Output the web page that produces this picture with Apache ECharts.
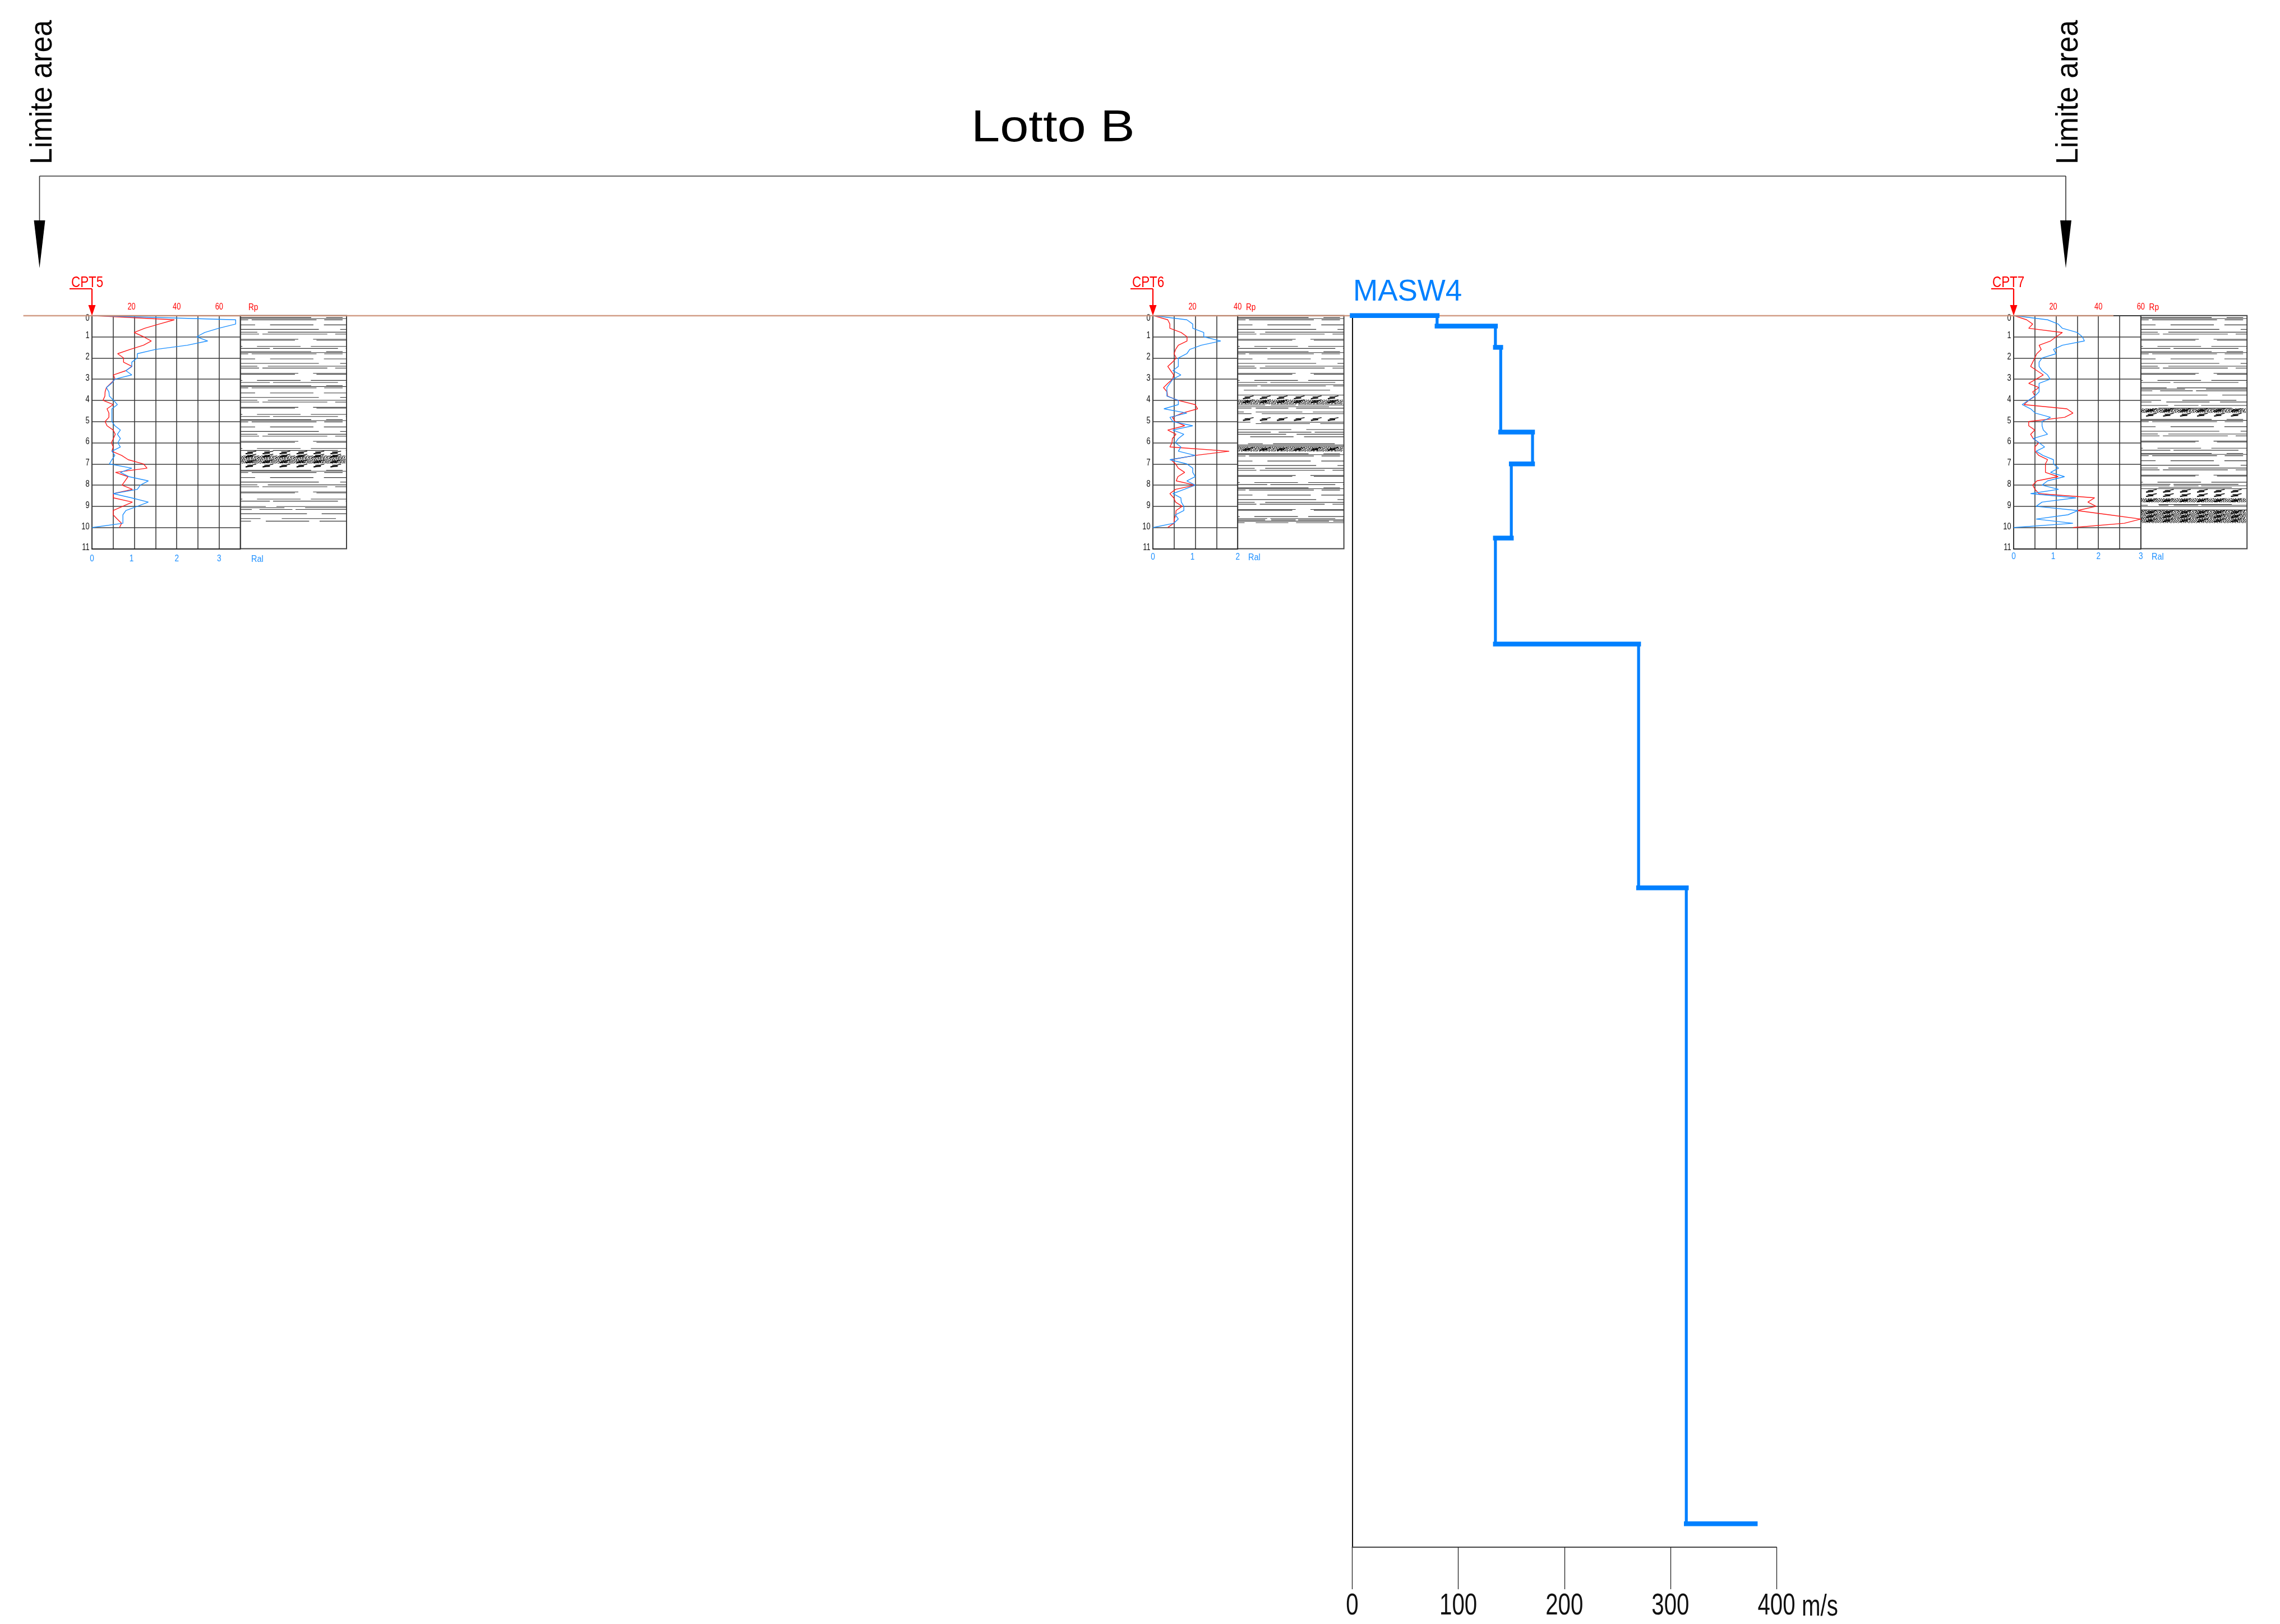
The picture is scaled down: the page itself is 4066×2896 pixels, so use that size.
<!DOCTYPE html>
<html><head><meta charset="utf-8">
<style>html,body{margin:0;padding:0;background:#fff}#c{width:4066px;height:2896px}</style>
<script src="https://cdn.jsdelivr.net/npm/echarts@6/dist/echarts.min.js"></script>
</head><body><div id="c"></div>
<script>
// ---------- data ----------
const depths = [0,.2,.4,.6,.8,1,1.2,1.4,1.6,1.8,2,2.2,2.4,2.6,2.8,3,3.2,3.4,3.6,3.8,4,4.2,4.4,4.6,4.8,5,5.2,5.4,5.6,5.8,6,6.2,6.4,6.6,6.8,7,7.2,7.4,7.6,7.8,8,8.2,8.4,8.6,8.8,9,9.2,9.4,9.6,9.8,10];
const cpt5Rp = [0,38.9,31.7,24.9,19.9,24.3,28,24.3,18,12.1,14.9,14.9,18.9,16,10.1,10.9,8.8,6.8,6.2,6.1,5.2,10,7.1,8,8,6.2,7.1,10,11,10.1,9.2,10,9.4,14,17.1,24.3,26,11.1,17,15.6,14.2,19.1,10.1,10.1,19.1,14.5,10,10,11.9,14,13];
const cpt5Ral = [0,3.39,3.39,2.99,2.66,2.47,2.73,2.25,1.5,1.07,1.07,.94,.94,.8,.94,.54,.46,.34,.4,.41,.51,.6,.47,.47,.47,.47,.54,.67,.6,.67,.61,.67,.47,.54,.47,.41,.94,.67,.87,1.33,1.14,1.07,.5,.93,1.33,1.07,.8,.73,.73,.73,0];
const cpt6Rp = [0,7,8,8,13.3,16.1,16.1,12,10.7,10,11,9.2,7,8.4,9.8,9.3,7,5,6.7,6.9,11.8,19.9,21.1,13.9,9.2,10.5,15,7,10.9,9.2,9,8,36,19.9,8.5,10.7,12,15,11.8,11,19.9,10.7,8,9.8,10.7,13.8,10.9,10.8,10.1,9.9,7];
const cpt6Ral = [0,.8,.94,.94,1.2,1.2,1.6,1.14,.87,.8,.6,.6,.6,.47,.66,.47,.4,.33,.33,.33,.6,.6,.26,.8,.4,.47,.94,.47,.73,.6,.53,.66,.6,1,.4,.8,.94,.94,1,.8,1,.74,.47,.66,.67,.73,.73,.53,.6,.49,0];
const cpt7Rp = [0,6.1,9,7.1,23,20.1,17.4,12,13,10.9,10,9,8,11,14,10.6,7.1,11.9,9,10.1,7.1,4.9,25.1,28,24.1,7.1,7.1,10,8,9.2,11.9,10,10.1,11.9,16,15,15,15,21,11,9,10.1,11.9,38.2,35,38.9,30,45,60,52.2,28];
const cpt7Ral = [0,.8,1.05,1.15,1.5,1.62,1.67,1.15,.94,1,.67,.6,.6,.67,.8,.86,.6,.6,.6,.5,.35,.2,.4,.51,.87,.67,.67,.7,.8,.46,.6,.73,.53,.69,.94,.94,1.06,.87,1.2,.8,.67,1.06,.4,1.47,.67,.53,1.52,1.28,.53,1.4,0];

const maswVelocity = [0,80,80,135,135,140,140,170,170,150,150,135,135,270,270,315,315,380];
const maswDepth    = [0,0,.5,.5,1.5,1.5,5.5,5.5,7,7,10.5,10.5,15.5,15.5,27,27,57,57];

const depthTicks = [0,1,2,3,4,5,6,7,8,9,10,11];
const maswTicks = [0,100,200,300,400];

// clay hatch: one repeat of the lithology symbol: [depth offset (m), from %, to %, ...]
const clayHatch = [
 [0,0,66.7,80.8,96.3],[.044,0,100],[.106,0,7.4,10.7,71.7,79,96.3],[.344,0,13.9,28,68.8,78.7,100],
 [.556,0,73.9,94,100],[.688,0,16,25.9,100],[.776,0,17.6,20.8,81.9,89.3,100],[1.023,0,54.6,68.5,100],
 [1.067,0,51.4,71.7,100],[1.358,0,1.9,15.7,56.7,66.4,100],[1.455,0,27.8,30.8,91.9,99.3,100]];
const clayPeriod = 1.605;
const commaColumns = [9.7,25.7,41.7,57.7,73.7,89.6];

const cpt5ClayRuns = [[.097,4],[7.30,1]];
const cpt6ClayRuns = [[.097,2],[6.52,2]];
const cpt7ClayRuns = [[.097,2],[4.90,2]];
const cpt5Rows = [[9.01,0,24,34,100],[9.07,0,41.5,61,100],[9.15,0,10.8,18,49,52,100],[9.35,0,62.7,76.6,100],[9.58,0,19,39,90],[9.70,0,10,24,64.8,74.6,100]];
const cpt6Rows = [[3.26,0,100],[3.32,0,18.5,21.7,83,90,100],[3.52,5.8,87],[3.75,0,100],[4.22,0,25.9,31.3,54.6,56.9,100],[4.30,0,86],[4.37,0,13,17,47.7,55,100],[4.55,0,5.8,17,60.9,70.8,100],[4.63,0,13,22.7,100],[5.03,0,12,22.2,100],[5.10,17,68,77.8,100],[5.38,0,50.5,64.6,100],[5.50,0,31.2,38.6,69.4,72.5,100],[5.60,0,45.6,55.5,100],[5.72,11.8,52.6,62.5,100],[6.05,9.7,23.6,33.3,91.4],[6.11,0,100],[6.17,0,100],[9.64,0,25.9,31.5,54.6,56.9,100],[9.70,0,86,90,100],[9.77,0,6.5,17,47.7,55,100]];
const cpt7Rows = [[3.41,0,24.3,34,100],[3.47,0,41.6,61.4,100],[3.55,0,10.8,18.2,48.9,52,100],[3.75,0,62.8,76.7,100],[4.0,0,19,39,90],[4.08,0,10,24,64.7,74.6,100],[4.24,0,25.7,31.4,54.3,56.8,100],[4.37,16.6,85.7],[8.03,0,27,31,54.3,56.8,100],[8.11,16.6,85.7],[8.17,0,100],[8.91,16.6,85.7],[8.95,0,6.5,17,26,31,54,57,100],[9.01,0,100],[9.17,0,100]];
const cpt5Sand = [[6.60,6.98]];
const cpt6Sand = [[3.97,4.18],[6.19,6.41]];
const cpt7Sand = [[4.38,4.59],[8.62,8.81],[9.19,9.78]];
const cpt5Commas = [6.47,6.62,6.89,7.09];
const cpt6Commas = [3.87,4.05,4.89,6.30];
const cpt7Commas = [4.47,4.69,8.28,8.48,8.72,9.28,9.47,9.67];

const sandBitmap = [
 "#.#..##.#..#.##.#.#..#.##..#.#.#",
 ".#.#....#.##..#...##...#.#.##...",
 "##..#.##...#.#..##..#.##..#..#.#",
 "..#.#..#.#...##.#.#.#...#..##...",
 "#.#..##..#.##...#..##.#..##..#.#",
 ".##.#..#.#..#.#.##.....#.#..##..",
 "#...##.#..##..#..#.#.##...#.#..#",
 ".#.#..#.##...#.##.#...#.##..#.#.",
 "#..##.#...#.##....##.#..#.#...##",
 ".#...#.##.#...#.#...#.##...##.#.",
 "..##.#..#.##.#..##.#...#.#...#.#",
 "#.#...#.#...##.#..#.##.#..##.#.."];

// ---------- layout ----------
const SANS = '"Liberation Sans",Arial,sans-serif';
const RED = '#ff0000', BLUE = '#1e90ff', MASW = '#0080ff', GRIDC = '#3a3a3a';
const TOP = 562.7, CELL = 37.8, LITHW = 189.4;
const NARROW_SCALE = 0.8;
const logs = [
 {left:164,  cells:7, name:'CPT5', rp:cpt5Rp, ral:cpt5Ral, runs:cpt5ClayRuns, rows:cpt5Rows, sand:cpt5Sand, commas:cpt5Commas, redLabels:[20,40,60], blueLabels:[0,1,2,3], blueY:996},
 {left:2056, cells:4, name:'CPT6', rp:cpt6Rp, ral:cpt6Ral, runs:cpt6ClayRuns, rows:cpt6Rows, sand:cpt6Sand, commas:cpt6Commas, redLabels:[20,40], blueLabels:[0,1,2], blueY:993.6},
 {left:3591, cells:6, name:'CPT7', rp:cpt7Rp, ral:cpt7Ral, runs:cpt7ClayRuns, rows:cpt7Rows, sand:cpt7Sand, commas:cpt7Commas, redLabels:[20,40,60], blueLabels:[0,1,2,3], blueY:992.5}
];

const sandCanvas = document.createElement('canvas');
sandCanvas.width = sandBitmap[0].length; sandCanvas.height = sandBitmap.length;
{const g = sandCanvas.getContext('2d'); g.fillStyle = '#000';
 sandBitmap.forEach((r,y)=>[...r].forEach((ch,x)=>{ if(ch==='#') g.fillRect(x,y,1,1); }));}

const grid=[], xAxis=[], yAxis=[], series=[];
const lineBase = {type:'line', showSymbol:false, symbol:'none', silent:true, clip:false, animation:false, z:4};

// Tick labels are condensed in the reference and no condensed face is installed, so they
// are drawn at the axis scale position as horizontally squeezed text.
function labelSeries(name,xi,yi,values,place,size,color,align,scale){
  return {type:'custom', name, xAxisIndex:xi, yAxisIndex:yi, silent:true, animation:false, clip:false, z:8,
    encode:{x:0}, data:values.map(v=>[v]),
    renderItem:(p,api)=>{ const v=api.value(0), pos=place(v,api);
      return {type:'text', x:pos[0], y:pos[1], scaleX:scale,
        style:{text:String(v), x:0, y:0, fill:color, font:size+'px '+SANS, align, verticalAlign:'middle'}}; }};
}

logs.forEach(L=>{
  const g = grid.length, xr = xAxis.length, yr = yAxis.length;
  const w = L.cells*CELL;
  grid.push({left:L.left, top:TOP, width:w, height:11*CELL, containLabel:false});
  xAxis.push({type:'value', gridIndex:g, position:'top', min:0, max:L.cells*10, interval:10,
    axisLine:{show:true, onZero:false, lineStyle:{color:GRIDC,width:2}}, axisTick:{show:false},
    splitLine:{show:true, lineStyle:{color:GRIDC,width:1.6}}, axisLabel:{show:false}});
  xAxis.push({type:'value', gridIndex:g, position:'bottom', min:0, max:L.cells*.5, interval:.5,
    axisLine:{show:true, onZero:false, lineStyle:{color:'#222',width:2}}, axisTick:{show:false}, splitLine:{show:false}, axisLabel:{show:false}});
  yAxis.push({type:'value', gridIndex:g, inverse:true, min:0, max:11, interval:1,
    axisLine:{show:true, onZero:false, lineStyle:{color:GRIDC,width:2}}, axisTick:{show:false},
    splitLine:{show:true, lineStyle:{color:GRIDC,width:1.6}}, axisLabel:{show:false}});
  series.push(Object.assign({},lineBase,{name:L.name+' Rp', xAxisIndex:xr, yAxisIndex:yr,
    lineStyle:{color:'#ff1a1a',width:1.4}, data:depths.map((d,i)=>[L.rp[i],d])}));
  series.push(Object.assign({},lineBase,{name:L.name+' Ral', xAxisIndex:xr+1, yAxisIndex:yr,
    lineStyle:{color:BLUE,width:1.4}, data:depths.map((d,i)=>[L.ral[i],d])}));
  series.push(labelSeries(L.name+' Rp ticks',xr,yr,L.redLabels,(v,api)=>[api.coord([v,0])[0]-(v===20?5:0),547.5],16,RED,'center',NARROW_SCALE));
  series.push(labelSeries(L.name+' Ral ticks',xr+1,yr,L.blueLabels,(v,api)=>[api.coord([v,0])[0]-(v===1?5:0),L.blueY],17,BLUE,'center',NARROW_SCALE));
  series.push(Object.assign(labelSeries(L.name+' depth ticks',xr,yr,depthTicks,(v,api)=>[L.left-4.4,api.coord([0,v])[1]+(v===0?4.7:-1.5)],16,'#111','right',NARROW_SCALE),{encode:{y:0}}));

  // lithology column
  const lg = grid.length;
  grid.push({left:L.left+w, top:TOP, width:LITHW, height:11*CELL, containLabel:false, show:true, borderColor:'#444', borderWidth:2, backgroundColor:'transparent'});
  xAxis.push({type:'value', gridIndex:lg, min:0, max:100, show:false});
  yAxis.push({type:'value', gridIndex:lg, inverse:true, min:0, max:11, show:false});
  const xi = xAxis.length-1, yi = yAxis.length-1;
  const segs = [];
  const addRow = r => { for(let k=1;k<r.length;k+=2) segs.push([r[0],r[k],r[k+1]]); };
  L.runs.forEach(([start,n])=>{ for(let p=0;p<n;p++) clayHatch.forEach(r=>addRow([start+p*clayPeriod+r[0],...r.slice(1)])); });
  L.rows.forEach(addRow);
  series.push({type:'custom', name:L.name+' clay', xAxisIndex:xi, yAxisIndex:yi, silent:true, animation:false, clip:false, z:3,
    encode:{x:[1,2],y:0}, data:segs,
    renderItem:(p,api)=>{ const a=api.coord([api.value(1),api.value(0)]), b=api.coord([api.value(2),api.value(0)]);
      return {type:'line', shape:{x1:a[0],y1:a[1],x2:b[0],y2:b[1]}, style:{stroke:'#333',lineWidth:1.1}}; }});
  series.push({type:'custom', name:L.name+' sand', xAxisIndex:xi, yAxisIndex:yi, silent:true, animation:false, clip:false, z:3,
    encode:{y:[0,1]}, data:L.sand,
    renderItem:(p,api)=>{ const a=api.coord([0.5,api.value(0)]), b=api.coord([99,api.value(1)]);
      return {type:'rect', shape:{x:a[0],y:a[1],width:b[0]-a[0],height:b[1]-a[1]}, style:{fill:{image:sandCanvas,repeat:'repeat'}}}; }});
  const cm=[]; L.commas.forEach(d=>commaColumns.forEach(c=>cm.push([d,c])));
  series.push({type:'custom', name:L.name+' gravel', xAxisIndex:xi, yAxisIndex:yi, silent:true, animation:false, clip:false, z:3,
    encode:{x:1,y:0}, data:cm,
    renderItem:(p,api)=>{ const a=api.coord([api.value(1),api.value(0)]), x=a[0], y=a[1];
      return {type:'group', children:[
        {type:'polyline', shape:{points:[[x-9,y+2],[x-3,y+1],[x+4,y+0.5]]}, style:{stroke:'#000',fill:null,lineWidth:2.2}},
        {type:'polyline', shape:{points:[[x-6,y-1],[x+3,y-1.5],[x+10,y-3]]}, style:{stroke:'#000',fill:null,lineWidth:1.3}}]}; }});
});

// MASW4
const mg = grid.length;
grid.push({left:2411.5, top:TOP, width:756.5, height:2759-TOP, containLabel:false});
xAxis.push({type:'value', gridIndex:mg, position:'bottom', min:0, max:400, interval:100,
  axisLine:{show:true, onZero:false, lineStyle:{color:'#444',width:2}},
  axisTick:{show:true, length:75, inside:false, lineStyle:{color:'#222',width:1.3}}, splitLine:{show:false}, axisLabel:{show:false}});
yAxis.push({type:'value', gridIndex:mg, inverse:true, min:0, max:(2759-TOP)/CELL, show:true,
  axisLine:{show:true, onZero:false, lineStyle:{color:'#111',width:2}}, axisTick:{show:false}, axisLabel:{show:false}, splitLine:{show:false}});
const maswSegs = maswVelocity.slice(1).map((v,i)=>[maswVelocity[i],maswDepth[i],v,maswDepth[i+1]]);
series.push({type:'custom', name:'MASW4', xAxisIndex:xAxis.length-1, yAxisIndex:yAxis.length-1, silent:true, animation:false, clip:false, z:30,
  encode:{x:[0,2],y:[1,3]}, data:maswSegs,
  renderItem:(p,api)=>{ const a=api.coord([api.value(0),api.value(1)]), b=api.coord([api.value(2),api.value(3)]);
    const horiz=api.value(1)===api.value(3);
    return {type:'line', shape:{x1:a[0],y1:a[1],x2:b[0],y2:b[1]}, style:{stroke:MASW,lineWidth:horiz?8.5:5.2,lineCap:'square'}}; }});
series.push(labelSeries('MASW ticks',xAxis.length-1,yAxis.length-1,maswTicks,(v,api)=>[api.coord([v,0])[0],2864],53,'#111','center',0.76));

// ---------- annotations ----------
const txt=(text,x,base,size,color,extra)=>Object.assign({type:'text',z:20,x,y:base-0.28*size,
  style:{text,fill:color,font:size+'px '+SANS,align:'left',verticalAlign:'middle'}},extra||{});
const seg=(x1,y1,x2,y2,color,w,z)=>({type:'line',z:z||1,shape:{x1,y1,x2,y2},style:{stroke:color,lineWidth:w}});
const tri=(pts,color)=>({type:'polygon',z:20,shape:{points:pts},style:{fill:color}});
const elements=[
  seg(41.6,563,3769,563,'rgba(205,145,120,0.9)',2.4,10),
  seg(70.5,314,3684,314,'#333',1.6), seg(70.5,314,70.5,395,'#333',1.6), seg(3684,314,3684,395,'#333',1.6),
  tri([[60.5,393],[80.5,393],[70.5,478]],'#000'), tri([[3674,393],[3694,393],[3684,478]],'#000'),
  txt('Limite area',0,0,52,'#000',{rotation:Math.PI/2,x:76.5,y:293,scaleY:1.06}),
  txt('Limite area',0,0,52,'#000',{rotation:Math.PI/2,x:3690,y:293,scaleY:1.06}),
  txt('Lotto B',1732,252.7,79,'#000',{scaleX:1.165}),
  txt('MASW4',2413,536,53,MASW),
  txt('m/s',3213,2881,53,'#111',{scaleX:0.76})
];
[[164,'CPT5',127,443,448,1002],[2056,'CPT6',2019,2222,2226,999],[3591,'CPT7',3553,3832.6,3837,998]].forEach(([x,n,tx,rpx,ralx,raly])=>{
  elements.push(txt(n,tx,512,28,RED,{scaleX:0.8}),
    seg(x-40,515,x,515,RED,2.2,20), seg(x,515,x,548,RED,2.2,20),
    tri([[x-6.5,544],[x+6.5,544],[x,563]],RED),
    txt('Rp',rpx,553,16,RED,{scaleX:0.85}), txt('Ral',ralx,raly,17,BLUE,{scaleX:0.85}));
});

const chart = echarts.init(document.getElementById('c'),null,{renderer:'canvas',width:4066,height:2896});
chart.setOption({animation:false, backgroundColor:'#fff', grid, xAxis, yAxis, series, graphic:{elements}});
</script></body></html>
